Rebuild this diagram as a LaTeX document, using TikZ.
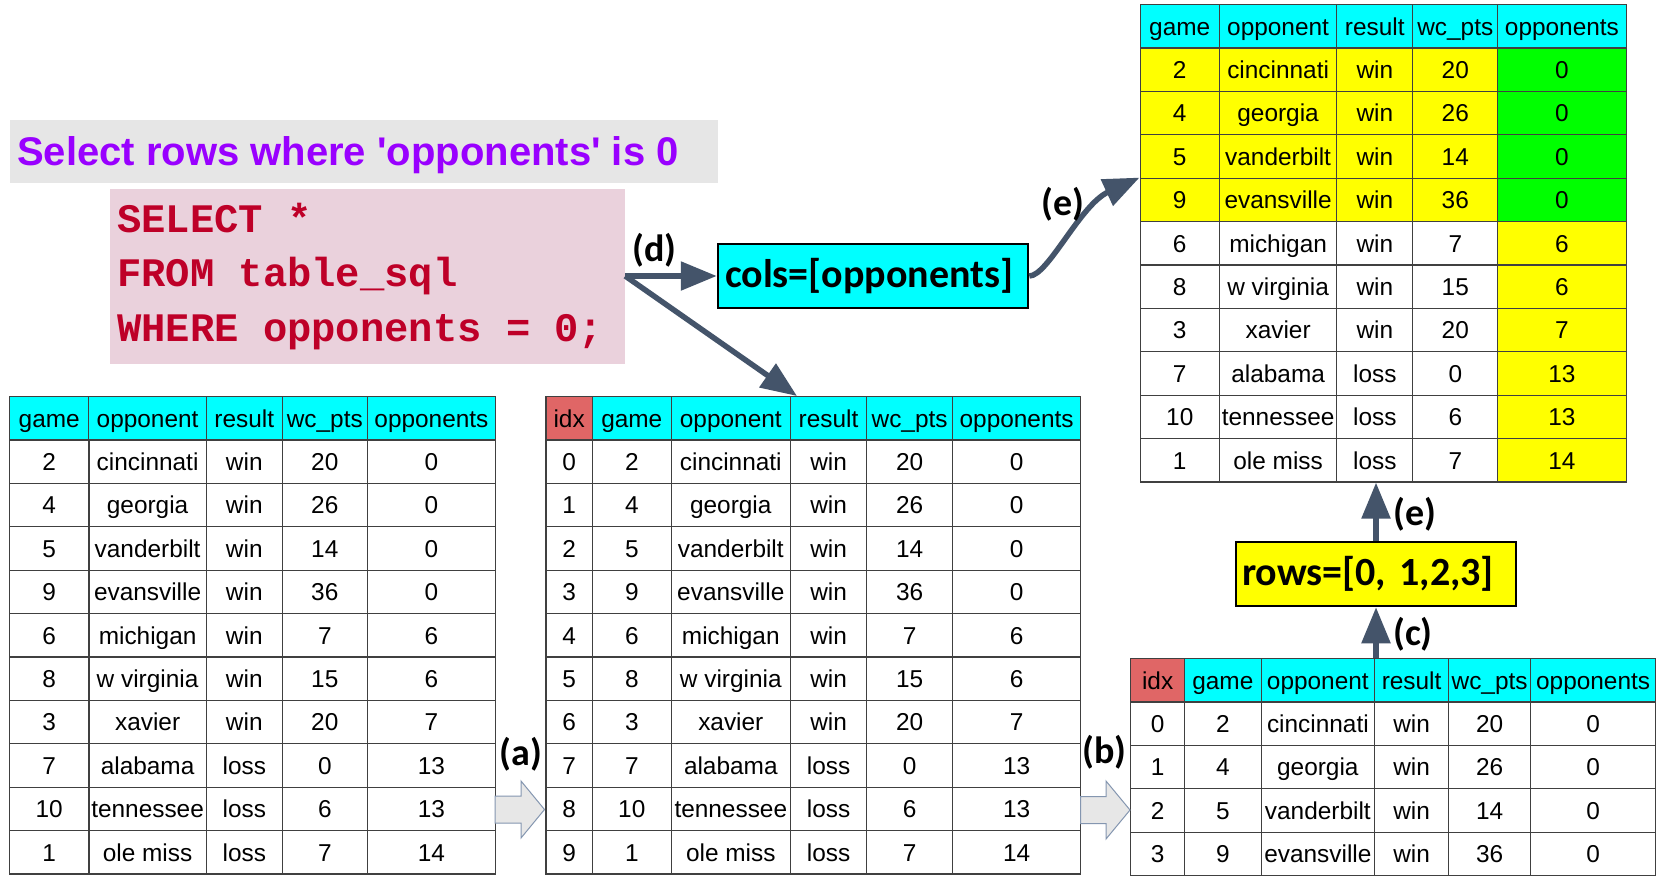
\documentclass[tikz,border=0pt]{standalone}
\usepackage{fontspec}
\setmainfont{Liberation Sans}
\newfontfamily\calibfont{Carlito}
\newfontfamily\sqlfont{Liberation Mono}
\usetikzlibrary{matrix,arrows.meta}
\definecolor{hdrcyan}{HTML}{00FFFF}
\definecolor{idxred}{HTML}{E06666}
\definecolor{hiyellow}{HTML}{FFFF00}
\definecolor{higreen}{HTML}{00FF00}
\definecolor{arrowslate}{HTML}{44546A}
\definecolor{titlegray}{HTML}{E6E6E6}
\definecolor{titlepurple}{HTML}{9900FF}
\definecolor{sqlpink}{HTML}{EAD1DC}
\definecolor{sqlred}{RGB}{190,0,40}
\definecolor{blockgray}{HTML}{E7E7E7}
\definecolor{blockedge}{HTML}{8496B0}
\definecolor{tblline}{HTML}{404040}
\begin{document}
\begin{tikzpicture}[x=1pt,y=-1pt,
  tbl/.style={matrix of nodes, anchor=north west, inner sep=0pt, outer sep=0pt,
    column sep=-1.2pt, row sep=-1.2pt,
    nodes={draw=tblline, line width=1.2pt, inner sep=0pt, outer sep=0pt,
      minimum height=43.4pt, text height=20pt, text depth=2.6pt, anchor=center,
      font=\fontsize{24.4pt}{28pt}\selectfont},
    row 1/.style={nodes={fill=hdrcyan}}},
  yl/.style={fill=hiyellow},
  gr/.style={fill=higreen},
  ix/.style={fill=idxred},
  conn/.style={draw=arrowslate, line width=5.5pt, -{Triangle[length=36pt,width=28pt]}},
  lab/.style={font=\calibfont\bfseries\fontsize{38pt}{44pt}\selectfont, inner sep=0pt},
  blockarrow/.style={fill=blockgray, draw=blockedge, line width=1pt, line join=miter},
  opbox/.style={draw=black, line width=2.5pt, minimum height=64pt, inner ysep=0pt,
    align=left, font=\calibfont\bfseries\fontsize{40pt}{46pt}\selectfont},
  sqlline/.style={anchor=base west, inner sep=0pt, text=sqlred,
    font=\sqlfont\bfseries\fontsize{40.5pt}{46pt}\selectfont}
]
\fill[white] (0,0) rectangle (1661,881);
\useasboundingbox (0,0) rectangle (1661,881);

% title band and SQL box
\node[fill=titlegray, minimum width=708.5pt, minimum height=62.7pt, inner sep=0pt, anchor=north west] (titlebar) at (9.5,120) {};
\node[anchor=base west, inner sep=0pt, text=titlepurple, font=\bfseries\fontsize{40pt}{46pt}\selectfont] (title) at (17,165) {Select rows where \textquotesingle opponents\textquotesingle{} is 0};
\node[fill=sqlpink, minimum width=515pt, minimum height=175pt, inner sep=0pt] (sql) at (367.5,276) {};
\node[sqlline] (sqlA) at (117,232.7) {SELECT *};
\node[sqlline] (sqlB) at (117,286.7) {FROM table\_sql};
\node[sqlline] (sqlC) at (117,341.7) {WHERE opponents = 0;};

% operation boxes
\node[opbox, fill=hdrcyan, text width=296pt, inner xsep=7pt] (cols) at (873,276) {cols=[opponents]};
\node[opbox, fill=hiyellow, text width=268pt, inner xsep=6pt] (rows) at (1376,574) {rows=[0, 1,2,3]};

% table 1
\matrix (t1) [tbl,
  column 1/.style={nodes={minimum width=79.3pt}},
  column 2/.style={nodes={minimum width=117.4pt}},
  column 3/.style={nodes={minimum width=76pt}},
  column 4/.style={nodes={minimum width=85pt}},
  column 5/.style={nodes={minimum width=128.3pt}}] at (9,396) {
game & opponent & result & wc\_pts & opponents \\
2 & cincinnati & win & 20 & 0 \\
4 & georgia & win & 26 & 0 \\
5 & vanderbilt & win & 14 & 0 \\
9 & evansville & win & 36 & 0 \\
6 & michigan & win & 7 & 6 \\
8 & w virginia & win & 15 & 6 \\
3 & xavier & win & 20 & 7 \\
7 & alabama & loss & 0 & 13 \\
10 & tennessee & loss & 6 & 13 \\
1 & ole miss & loss & 7 & 14 \\
};

% table 2
\matrix (t2) [tbl,
  column 1/.style={nodes={minimum width=46.3pt}},
  column 2/.style={nodes={minimum width=79pt}},
  column 3/.style={nodes={minimum width=119pt}},
  column 4/.style={nodes={minimum width=76.5pt}},
  column 5/.style={nodes={minimum width=85.6pt}},
  column 6/.style={nodes={minimum width=128.4pt}}] at (545.4,396) {
|[ix]|idx & game & opponent & result & wc\_pts & opponents \\
0 & 2 & cincinnati & win & 20 & 0 \\
1 & 4 & georgia & win & 26 & 0 \\
2 & 5 & vanderbilt & win & 14 & 0 \\
3 & 9 & evansville & win & 36 & 0 \\
4 & 6 & michigan & win & 7 & 6 \\
5 & 8 & w virginia & win & 15 & 6 \\
6 & 3 & xavier & win & 20 & 7 \\
7 & 7 & alabama & loss & 0 & 13 \\
8 & 10 & tennessee & loss & 6 & 13 \\
9 & 1 & ole miss & loss & 7 & 14 \\
};

% table 3
\matrix (t3) [tbl,
  column 1/.style={nodes={minimum width=54pt}},
  column 2/.style={nodes={minimum width=76.5pt}},
  column 3/.style={nodes={minimum width=113.5pt}},
  column 4/.style={nodes={minimum width=74pt}},
  column 5/.style={nodes={minimum width=82pt}},
  column 6/.style={nodes={minimum width=125pt}}] at (1130,658) {
|[ix]|idx & game & opponent & result & wc\_pts & opponents \\
0 & 2 & cincinnati & win & 20 & 0 \\
1 & 4 & georgia & win & 26 & 0 \\
2 & 5 & vanderbilt & win & 14 & 0 \\
3 & 9 & evansville & win & 36 & 0 \\
};

% table 4
\matrix (t4) [tbl,
  column 1/.style={nodes={minimum width=79.3pt}},
  column 2/.style={nodes={minimum width=117.4pt}},
  column 3/.style={nodes={minimum width=76pt}},
  column 4/.style={nodes={minimum width=85pt}},
  column 5/.style={nodes={minimum width=128.3pt}}] at (1139.5,4) {
game & opponent & result & wc\_pts & opponents \\
|[yl]|2 & |[yl]|cincinnati & |[yl]|win & |[yl]|20 & |[gr]|0 \\
|[yl]|4 & |[yl]|georgia & |[yl]|win & |[yl]|26 & |[gr]|0 \\
|[yl]|5 & |[yl]|vanderbilt & |[yl]|win & |[yl]|14 & |[gr]|0 \\
|[yl]|9 & |[yl]|evansville & |[yl]|win & |[yl]|36 & |[gr]|0 \\
6 & michigan & win & 7 & |[yl]|6 \\
8 & w virginia & win & 15 & |[yl]|6 \\
3 & xavier & win & 20 & |[yl]|7 \\
7 & alabama & loss & 0 & |[yl]|13 \\
10 & tennessee & loss & 6 & |[yl]|13 \\
1 & ole miss & loss & 7 & |[yl]|14 \\
};

% block arrows (a) and (b)
\draw[blockarrow] (495,796) -- (521,796) -- (521,781) -- (544.5,809.5) -- (521,838) -- (521,823) -- (495,823) -- cycle;
\draw[blockarrow] (1080.5,796.5) -- (1106,796.5) -- (1106,781) -- (1130,810) -- (1106,839) -- (1106,823.5) -- (1080.5,823.5) -- cycle;

% connectors
\coordinate (dtip) at (797,396);
\coordinate (etip) at (1139.5,177.6);
\draw[conn] (sql.east) -- (cols.west);
\draw[conn] (sql.east) -- (dtip);
\draw[conn] (cols.east) .. controls (1048,276) and (1080,205) .. (etip);
\draw[conn] (rows.south |- t3.north) -- (rows.south);
\draw[conn] (rows.north) -- (rows.north |- t4.south);

% labels
\node[lab] (la) at (521,754) {(a)};
\node[lab] (lb) at (1104.7,752.5) {(b)};
\node[lab] (lc) at (1413,634.6) {(c)};
\node[lab] (le1) at (1415,514.4) {(e)};
\node[lab] (le2) at (1063,204) {(e)};
\node[lab] (ld) at (654.6,250) {(d)};
\end{tikzpicture}
\end{document}
